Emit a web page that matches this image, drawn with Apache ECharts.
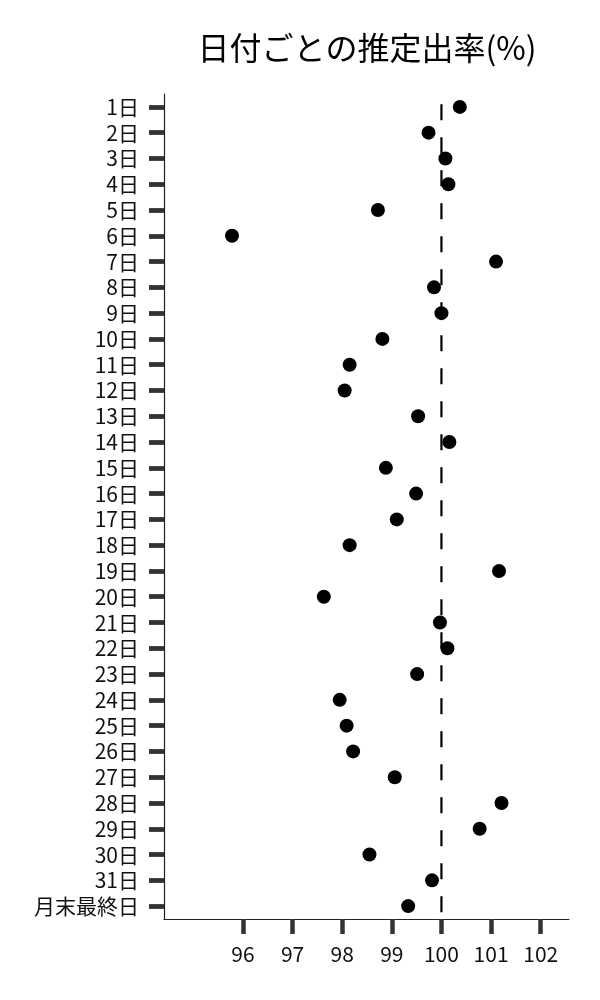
<!DOCTYPE html>
<html>
<head>
    <meta charset="utf-8">
    <title>日付ごとの推定出率</title>
    <script src="https://cdn.jsdelivr.net/npm/echarts@6/dist/echarts.min.js"></script>
    <style>
        html, body { margin: 0; padding: 0; background: #fff; }
    </style>
</head>
<body>
    <div id="main" style="width: 600px;height:1000px;"></div>

    <script type="text/javascript">
        // 日付ラベル（上から順）
        var days = ['1日', '2日', '3日', '4日', '5日', '6日', '7日', '8日', '9日', '10日',
                    '11日', '12日', '13日', '14日', '15日', '16日', '17日', '18日', '19日', '20日',
                    '21日', '22日', '23日', '24日', '25日', '26日', '27日', '28日', '29日', '30日',
                    '31日', '月末最終日'];

        // 推定出率(%)
        var rates = [100.37, 99.74, 100.08, 100.14, 98.72, 95.78, 101.10, 99.85, 100.00, 98.81,
                     98.15, 98.05, 99.53, 100.16, 98.88, 99.49, 99.10, 98.15, 101.16, 97.63,
                     99.97, 100.12, 99.51, 97.95, 98.09, 98.22, 99.06, 101.21, 100.77, 98.55,
                     99.81, 99.33];

        var xTicks = [96, 97, 98, 99, 100, 101, 102];
        var refValue = 100;
        // 基準線の縦の範囲（カテゴリ位置）
        var refSpan = [-0.1, 31.5];

        var font = '"Noto Sans CJK JP", "Noto Sans", sans-serif';

        var myChart = echarts.init(document.getElementById('main'));

        var option = {
            backgroundColor: '#fff',
            animation: false,
            title: {
                text: '日付ごとの推定出率(%)',
                left: 362,
                textAlign: 'center',
                top: 27,
                textStyle: { fontFamily: font, fontSize: 32, fontWeight: 'normal', color: '#000' }
            },
            grid: { left: 164, right: 31, top: 94, bottom: 81 },
            xAxis: {
                type: 'value',
                min: 94.41,
                max: 102.57,
                splitLine: { show: false },
                axisLine: { show: true, onZero: false, lineStyle: { color: '#222', width: 1.2 } },
                axisTick: { show: true, length: 15, customValues: xTicks,
                            lineStyle: { color: '#333', width: 4.5 } },
                axisLabel: { customValues: xTicks, margin: 25, color: '#111',
                             fontFamily: font, fontSize: 21 }
            },
            yAxis: [{
                type: 'category',
                data: days,
                inverse: true,
                boundaryGap: true,
                axisLine: { show: true, lineStyle: { color: '#222', width: 1.2 } },
                axisTick: { show: true, alignWithLabel: true, interval: 0, length: 15,
                            lineStyle: { color: '#333', width: 4.8 } },
                axisLabel: { interval: 0, margin: 25, color: '#111', fontFamily: font, fontSize: 21 },
                splitLine: { show: false }
            }, {
                type: 'value',
                show: false,
                inverse: true,
                min: -0.5,
                max: days.length - 0.5
            }],
            series: [{
                type: 'scatter',
                data: rates.map(function (v, i) { return [v, i]; }),
                symbolSize: 14,
                itemStyle: { color: '#000', opacity: 1 },
                z: 3
            }, {
                type: 'line',
                yAxisIndex: 1,
                data: [[refValue, refSpan[0]], [refValue, refSpan[1]]],
                symbol: 'none',
                lineStyle: { color: '#000', width: 2.2, type: [16, 17] },
                z: 2
            }]
        };

        myChart.setOption(option);
    </script>
</body>
</html>
